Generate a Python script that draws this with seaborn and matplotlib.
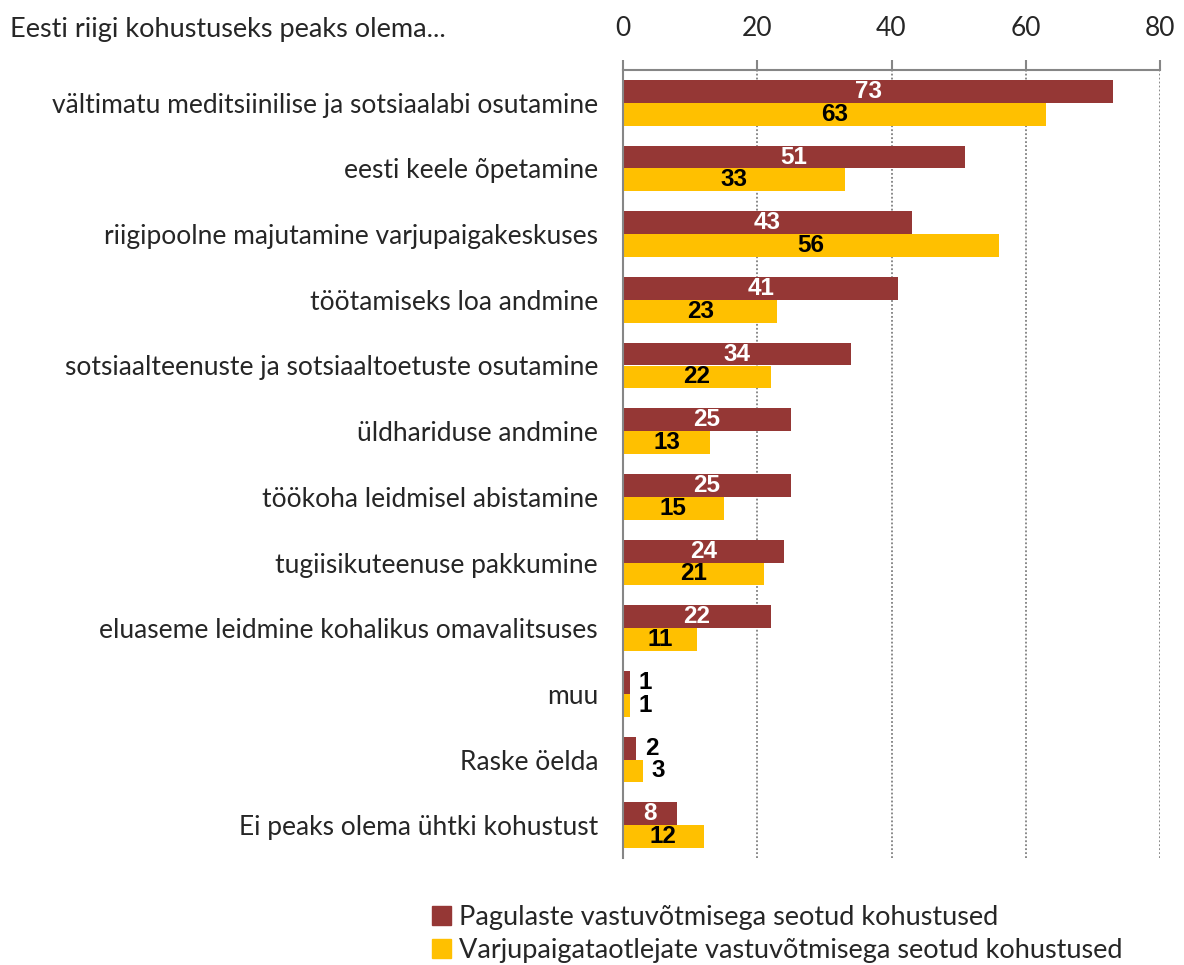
import matplotlib
matplotlib.use("Agg")
import matplotlib.pyplot as plt
import pandas as pd
import numpy as np
import seaborn as sns

# data
categories = [
    "vältimatu meditsiinilise ja sotsiaalabi osutamine",
    "eesti keele õpetamine",
    "riigipoolne majutamine varjupaigakeskuses",
    "töötamiseks loa andmine",
    "sotsiaalteenuste ja sotsiaaltoetuste osutamine",
    "üldhariduse andmine",
    "töökoha leidmisel abistamine",
    "tugiisikuteenuse pakkumine",
    "eluaseme leidmine kohalikus omavalitsuses",
    "muu",
    "Raske öelda",
    "Ei peaks olema ühtki kohustust",
]
pagulased = [73, 51, 43, 41, 34, 25, 25, 24, 22, 1, 2, 8]
varjupaik = [63, 33, 56, 23, 22, 13, 15, 21, 11, 1, 3, 12]
series = ["Pagulaste vastuvõtmisega seotud kohustused",
          "Varjupaigataotlejate vastuvõtmisega seotud kohustused"]
colors = ["#953735", "#FFC000"]
xticks = [0, 20, 40, 60, 80]

df = pd.DataFrame({
    "kategooria": categories * 2,
    "väärtus": pagulased + varjupaik,
    "seeria": [series[0]] * len(categories) + [series[1]] * len(categories),
})

sns.set_style("white")
plt.rcParams["font.family"] = ["Lato", "DejaVu Sans"]

fig = plt.figure(figsize=(11.84, 9.65), dpi=100)
ax = fig.add_axes([623 / 1184, 1 - 858 / 965, (1160 - 623) / 1184, (858 - 70) / 965])

sns.barplot(data=df, y="kategooria", x="väärtus", hue="seeria", orient="h",
            palette=colors, width=0.7, ax=ax, legend=False, saturation=1,
            linewidth=0)

ax.set_xlim(0, 80)
ax.set_ylim(len(categories) - 0.5, -0.5)
ax.xaxis.tick_top()
ax.set_xticks(xticks)
ax.tick_params(axis="x", direction="out", length=7, color="#868686", width=1.5,
               labelsize=19, pad=14)
ax.set_xlabel("")
ax.set_ylabel("")

# category ticks at group boundaries
ax.set_yticks(np.arange(len(categories)))
ax.set_yticklabels(categories, fontsize=19)
ax.set_yticks(np.arange(-0.5, len(categories)), minor=True)
ax.tick_params(axis="y", which="major", length=0, pad=18)
ax.tick_params(axis="y", which="minor", length=7, color="#868686", width=1.5, direction="out")

for s in ["right", "bottom"]:
    ax.spines[s].set_visible(False)
for s in ["left", "top"]:
    ax.spines[s].set_color("#868686")
    ax.spines[s].set_linewidth(1.5)

ax.grid(axis="x", linestyle=(0, (1, 1.2)), color="#808080", linewidth=1.3)
ax.set_axisbelow(True)

# value labels
for i, cont in enumerate(ax.containers):
    vals = pagulased if i == 0 else varjupaik
    for bar, v in zip(cont, vals):
        y = bar.get_y() + bar.get_height() / 2
        if v < 5:
            ax.text(v + 1.3, y, str(v), ha="left", va="center", fontsize=17.5,
                    fontweight="bold", color="black", family="Liberation Sans")
        else:
            ax.text(v / 2, y, str(v), ha="center", va="center", fontsize=17.5,
                    fontweight="bold", color="white" if i == 0 else "black",
                    family="Liberation Sans")

fig.text(10 / 1184, 1 - 30 / 965, "Eesti riigi kohustuseks peaks olema...",
         fontsize=19.5, va="center", ha="left")

handles = [plt.Rectangle((0, 0), 1, 1, color=c) for c in colors]
fig.legend(handles, series, loc="upper left", bbox_to_anchor=(432 / 1184, 1 - 905 / 965),
           frameon=False, fontsize=19.5, handlelength=0.7, handleheight=0.7,
           handletextpad=0.3, labelspacing=0.28, borderpad=0, borderaxespad=0)

fig.savefig("out.png", dpi=100)
